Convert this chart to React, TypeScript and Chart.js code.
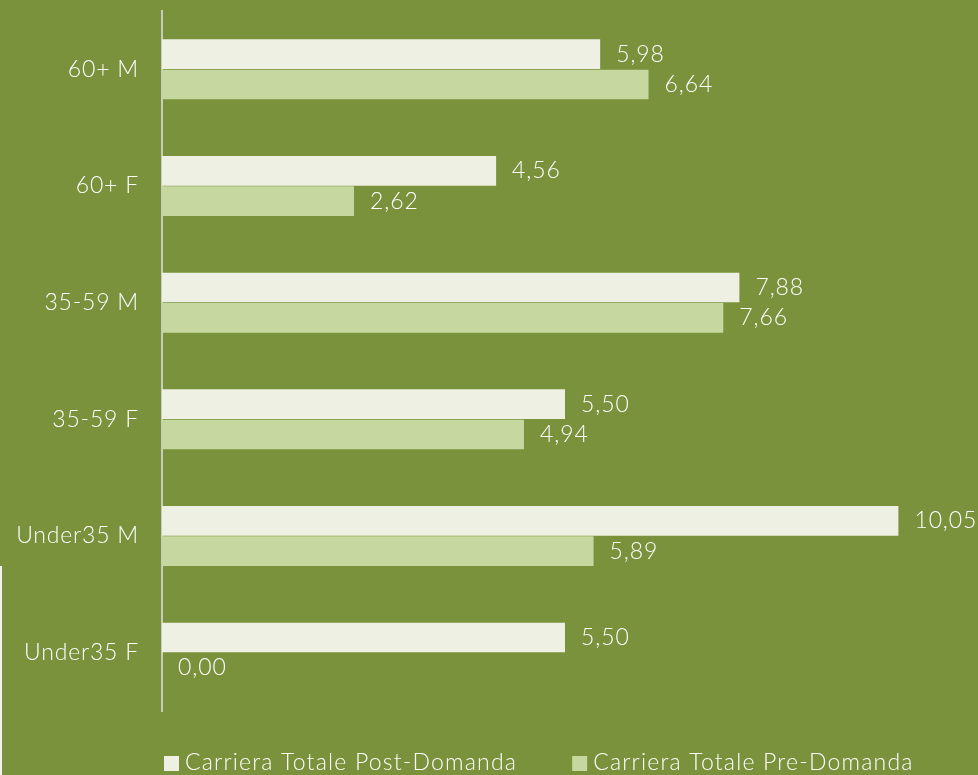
import React, { useEffect, useRef } from "react";
import { Chart, registerables } from "chart.js";

Chart.register(...registerables);

const categories = ["60+ M", "60+ F", "35-59 M", "35-59 F", "Under35 M", "Under35 F"];
const postValues = [5.98, 4.56, 7.88, 5.5, 10.05, 5.5];
const preValues = [6.64, 2.62, 7.66, 4.94, 5.89, 0.0];
const seriesLabels = ["Carriera Totale Post-Domanda", "Carriera Totale Pre-Domanda"];
const seriesColors = ["#EDF0E2", "#C6D8A0"];

const BG = "#79923B";
const FONT = "Lato, 'Open Sans', sans-serif";

const fmt = (v: number) => v.toFixed(2).replace(".", ",");

const spacingPlugin = {
  id: "letterSpacing",
  beforeDraw(chart: any) {
    chart.ctx.letterSpacing = "0.8px";
  },
};

const dataLabelPlugin = {
  id: "dataLabels",
  afterDatasetsDraw(chart: any) {
    const ctx = chart.ctx;
    ctx.save();
    ctx.letterSpacing = "0.9px";
    ctx.fillStyle = "#FFFFFF";
    ctx.font = `300 23px ${FONT}`;
    ctx.textBaseline = "middle";
    ctx.textAlign = "left";
    chart.data.datasets.forEach((ds: any, di: number) => {
      const meta = chart.getDatasetMeta(di);
      meta.data.forEach((el: any, i: number) => {
        ctx.fillText(fmt(ds.data[i]), el.x + 16, el.y);
      });
    });
    ctx.restore();
  },
};

const legendPlugin = {
  id: "customLegend",
  afterDraw(chart: any) {
    const ctx = chart.ctx;
    ctx.save();
    ctx.letterSpacing = "1.2px";
    ctx.font = `300 23px ${FONT}`;
    ctx.textBaseline = "middle";
    const y = chart.height - 12;
    let x = chart.chartArea.left + 2;
    chart.data.datasets.forEach((ds: any) => {
      ctx.fillStyle = ds.backgroundColor;
      ctx.fillRect(x, y - 7, 15, 15);
      x += 21;
      ctx.fillStyle = "#FFFFFF";
      ctx.fillText(ds.label, x, y);
      x += ctx.measureText(ds.label).width + 55;
    });
    // thin light line at left edge
    ctx.strokeStyle = "#F2F4EA";
    ctx.lineWidth = 2;
    ctx.beginPath();
    ctx.moveTo(1, chart.height - 209);
    ctx.lineTo(1, chart.height);
    ctx.stroke();
    ctx.restore();
  },
};

export default function App() {
  const ref = useRef<HTMLCanvasElement>(null);
  useEffect(() => {
    document.body.style.margin = "0";
    const chart = new Chart(ref.current!, {
      type: "bar",
      data: {
        labels: categories,
        datasets: [
          { label: seriesLabels[0], data: postValues, backgroundColor: seriesColors[0], categoryPercentage: 0.52, barPercentage: 0.98 },
          { label: seriesLabels[1], data: preValues, backgroundColor: seriesColors[1], categoryPercentage: 0.52, barPercentage: 0.98 },
        ],
      },
      options: {
        indexAxis: "y",
        animation: false,
        responsive: false,
        maintainAspectRatio: false,
        layout: { padding: { top: 11, bottom: 64, right: 10, left: 0 } },
        plugins: { legend: { display: false }, tooltip: { enabled: false } },
        scales: {
          x: { display: false, min: 0, max: 11 },
          y: {
            grid: { display: false },
            border: { display: true, color: "#C8CCBE", width: 2 },
            ticks: { color: "#FFFFFF", font: { family: FONT, size: 23, weight: "300" }, padding: 15 },
            afterFit(scale: any) {
              scale.width = 162;
              scale.paddingTop = 0;
              scale.paddingBottom = 0;
            },
          },
        },
      },
      plugins: [spacingPlugin, dataLabelPlugin, legendPlugin],
    });
    return () => chart.destroy();
  }, []);
  return (
    <div style={{ width: 978, height: 775, background: BG }}>
      <canvas ref={ref} width={978} height={775} style={{ display: "block" }} />
    </div>
  );
}
